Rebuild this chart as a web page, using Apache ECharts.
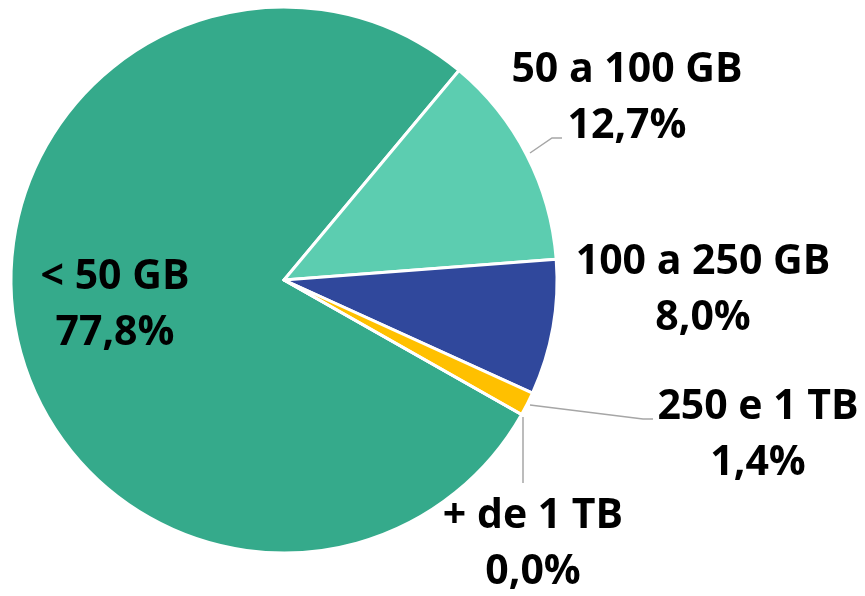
<!DOCTYPE html>
<html>
<head>
<meta charset="utf-8">
<script src="https://cdn.jsdelivr.net/npm/echarts@6/dist/echarts.min.js"></script>
<style>
  html, body { margin: 0; padding: 0; background: #fff; }
  #chart { width: 865px; height: 596px; }
</style>
</head>
<body>
<div id="chart"></div>
<script>
// categorias e valores (%)
const categories = ['< 50 GB', '50 a 100 GB', '100 a 250 GB', '250 e 1 TB', '+ de 1 TB'];
const values = [77.8, 12.7, 8.0, 1.4, 0.0];
const colors = ['#35aa8b', '#5ccdb0', '#30489c', '#ffc000', '#7f7f7f'];

// posicao dos rotulos (centro do bloco de texto) e linhas guia
const labelPos = [
  { x: 115, y: 305 },
  { x: 627, y: 98 },
  { x: 703, y: 290 },
  { x: 758, y: 435 },
  { x: 533, y: 544 }
];
const leaderLines = [
  null,
  [[530, 153], [552, 138], [562, 138]],
  null,
  [[530, 405], [643, 419], [653, 419]],
  [[523, 417], [523, 483], [523, 483]]
];

const data = categories.map((name, i) => ({
  name,
  value: values[i],
  itemStyle: { color: colors[i] }
}));

const chart = echarts.init(document.getElementById('chart'));
chart.setOption({
  animation: false,
  series: [
    {
      type: 'pie',
      center: [284, 280],
      radius: 273,
      startAngle: -29.5,
      clockwise: true,
      avoidLabelOverlap: false,
      itemStyle: { borderColor: '#fff', borderWidth: 3 },
      label: {
        show: true,
        formatter: (p) => p.name + '\n' + p.value.toFixed(1).replace('.', ',') + '%',
        fontFamily: 'Open Sans',
        fontWeight: 'bold',
        fontSize: 41,
        lineHeight: 56,
        color: '#000',
        align: 'center'
      },
      labelLine: {
        show: true,
        lineStyle: { color: '#a6a6a6', width: 1.5 }
      },
      labelLayout: (params) => {
        const i = params.dataIndex;
        const pos = labelPos[i];
        const out = { x: pos.x, y: pos.y, align: 'center', verticalAlign: 'middle' };
        out.labelLinePoints = leaderLines[i] || [[0, 0], [0, 0], [0, 0]];
        return out;
      },
      data
    }
  ]
});
</script>
</body>
</html>
